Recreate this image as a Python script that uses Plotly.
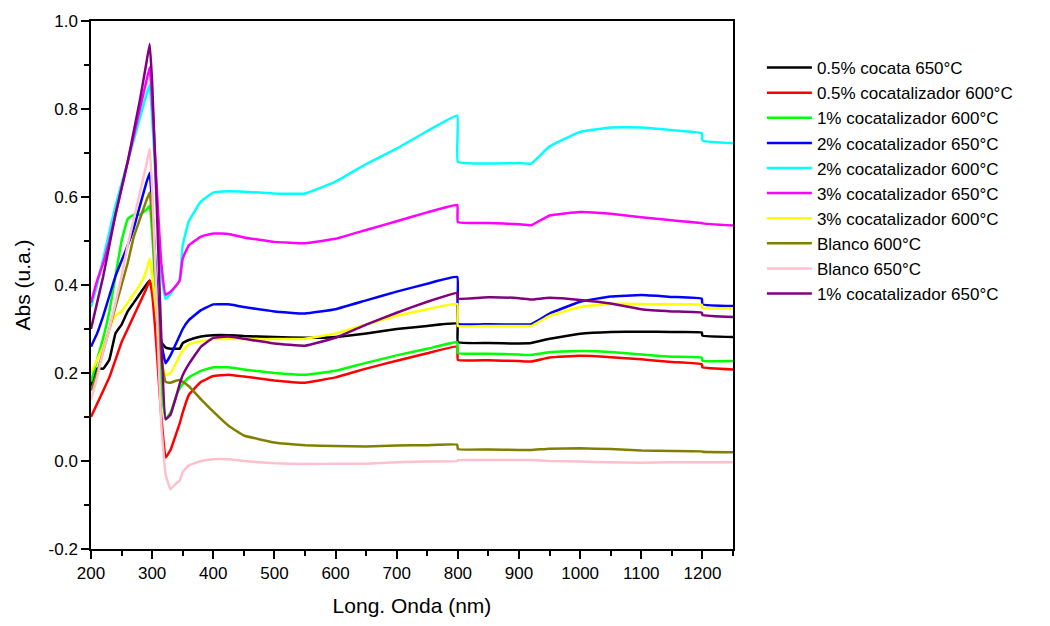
import plotly.graph_objects as go

wavelength = [200, 210, 220, 230, 240, 250, 260, 270, 280, 290, 296, 300, 305, 310, 315, 322, 330, 340, 345, 350,
              360, 380, 400, 425, 450, 500, 550, 600, 650, 700, 750, 799, 800, 850, 900, 920, 950, 1000, 1050,
              1100, 1150, 1199, 1200, 1250]

cocata_05_650 = [0.17, 0.21, 0.21, 0.23, 0.29, 0.31, 0.34, 0.36, 0.38, 0.40, 0.41, 0.39, 0.34, 0.30, 0.27, 0.258, 0.255, 0.255, 0.255, 0.268,
                 0.275, 0.283, 0.286, 0.286, 0.284, 0.282, 0.280, 0.282, 0.290, 0.300, 0.307, 0.312, 0.270, 0.268, 0.267, 0.268, 0.278, 0.289, 0.293,
                 0.294, 0.293, 0.292, 0.285, 0.282]
cocat_05_600 = [0.10, 0.13, 0.16, 0.19, 0.23, 0.27, 0.30, 0.33, 0.36, 0.39, 0.41, 0.38, 0.30, 0.20, 0.10, 0.008, 0.025, 0.065, 0.085, 0.11,
                0.15, 0.18, 0.193, 0.196, 0.192, 0.183, 0.178, 0.190, 0.210, 0.228, 0.245, 0.260, 0.230, 0.229, 0.227, 0.226, 0.235, 0.239, 0.236,
                0.231, 0.225, 0.220, 0.213, 0.208]
cocat_1_600 = [0.18, 0.23, 0.28, 0.34, 0.42, 0.50, 0.55, 0.56, 0.56, 0.57, 0.58, 0.52, 0.40, 0.28, 0.17, 0.095, 0.11, 0.15, 0.165, 0.175,
               0.19, 0.205, 0.213, 0.213, 0.208, 0.200, 0.196, 0.205, 0.223, 0.240, 0.255, 0.270, 0.245, 0.244, 0.242, 0.241, 0.247, 0.250, 0.248,
               0.242, 0.237, 0.235, 0.228, 0.227]
cocat_2_650 = [0.26, 0.29, 0.33, 0.375, 0.42, 0.455, 0.49, 0.53, 0.58, 0.63, 0.655, 0.58, 0.46, 0.35, 0.27, 0.222, 0.24, 0.27, 0.285, 0.30,
               0.32, 0.343, 0.356, 0.356, 0.350, 0.340, 0.335, 0.345, 0.365, 0.385, 0.403, 0.418, 0.312, 0.311, 0.310, 0.311, 0.335, 0.362, 0.374,
               0.377, 0.373, 0.369, 0.356, 0.352]
cocat_2_600 = [0.35, 0.40, 0.46, 0.52, 0.58, 0.63, 0.68, 0.73, 0.78, 0.83, 0.855, 0.78, 0.66, 0.53, 0.43, 0.368, 0.38, 0.40, 0.41, 0.49,
               0.545, 0.59, 0.61, 0.613, 0.612, 0.608, 0.608, 0.635, 0.675, 0.710, 0.750, 0.785, 0.680, 0.676, 0.677, 0.676, 0.715, 0.748, 0.758,
               0.758, 0.752, 0.745, 0.728, 0.722]
cocat_3_650 = [0.36, 0.41, 0.45, 0.50, 0.56, 0.62, 0.68, 0.74, 0.80, 0.86, 0.895, 0.82, 0.69, 0.56, 0.45, 0.378, 0.385, 0.40, 0.41, 0.46,
               0.49, 0.51, 0.517, 0.516, 0.508, 0.498, 0.495, 0.505, 0.525, 0.545, 0.565, 0.582, 0.543, 0.541, 0.538, 0.536, 0.558, 0.566, 0.562,
               0.554, 0.547, 0.541, 0.540, 0.535]
cocat_3_600 = [0.20, 0.23, 0.26, 0.30, 0.33, 0.34, 0.36, 0.38, 0.40, 0.43, 0.46, 0.42, 0.36, 0.29, 0.23, 0.195, 0.20, 0.225, 0.24, 0.25,
               0.265, 0.272, 0.277, 0.278, 0.277, 0.277, 0.278, 0.290, 0.310, 0.330, 0.345, 0.357, 0.307, 0.307, 0.307, 0.307, 0.330, 0.350, 0.357,
               0.357, 0.356, 0.355, 0.348, 0.347]
blanco_600 = [0.16, 0.20, 0.25, 0.30, 0.35, 0.40, 0.45, 0.51, 0.55, 0.59, 0.61, 0.55, 0.43, 0.32, 0.23, 0.18, 0.178, 0.183, 0.184, 0.18,
              0.17, 0.14, 0.112, 0.08, 0.058, 0.042, 0.036, 0.034, 0.033, 0.035, 0.036, 0.037, 0.027, 0.026, 0.025, 0.025, 0.028, 0.029, 0.027,
              0.024, 0.023, 0.022, 0.021, 0.020]
blanco_650 = [0.14, 0.19, 0.25, 0.30, 0.36, 0.42, 0.49, 0.55, 0.61, 0.67, 0.71, 0.62, 0.45, 0.25, 0.08, -0.03, -0.064, -0.05, -0.045, -0.025,
              -0.01, 0.0, 0.004, 0.004, 0.0, -0.005, -0.007, -0.006, -0.006, -0.003, -0.001, 0.0, 0.002, 0.002, 0.002, 0.002, 0.0, -0.001, -0.003,
              -0.004, -0.003, -0.003, -0.003, -0.003]
cocat_1_650 = [0.30, 0.36, 0.42, 0.49, 0.56, 0.62, 0.68, 0.75, 0.82, 0.90, 0.948, 0.86, 0.68, 0.48, 0.28, 0.095, 0.105, 0.15, 0.175, 0.195,
               0.22, 0.26, 0.28, 0.283, 0.278, 0.267, 0.262, 0.280, 0.310, 0.337, 0.362, 0.382, 0.369, 0.372, 0.370, 0.367, 0.371, 0.366, 0.358,
               0.345, 0.340, 0.337, 0.332, 0.327]

series_names = ["0.5% cocata 650°C", "0.5% cocatalizador 600°C", "1% cocatalizador 600°C",
                "2% cocatalizador 650°C", "2% cocatalizador 600°C", "3% cocatalizador 650°C",
                "3% cocatalizador 600°C", "Blanco 600°C", "Blanco 650°C", "1% cocatalizador 650°C"]
series_values = [cocata_05_650, cocat_05_600, cocat_1_600, cocat_2_650, cocat_2_600, cocat_3_650,
                 cocat_3_600, blanco_600, blanco_650, cocat_1_650]
series_colors = ["#000000", "#FF0000", "#00FF00", "#0000FF", "#00FFFF", "#FF00FF",
                 "#FFFF00", "#808000", "#FFC0CB", "#800080"]

x_ticks = list(range(200, 1201, 100))
y_ticks = [-0.2, 0.0, 0.2, 0.4, 0.6, 0.8, 1.0]
y_tick_labels = ["-0.2", "0.0", "0.2", "0.4", "0.6", "0.8", "1.0"]

fig = go.Figure()
for name, vals, col in zip(series_names, series_values, series_colors):
    fig.add_trace(go.Scatter(x=wavelength, y=vals, mode="lines", name=name,
                             line=dict(color=col, width=2.5, shape="spline", smoothing=0.3)))

font_family = "Liberation Sans, Arial, sans-serif"
fig.update_layout(
    width=1050, height=626,
    margin=dict(l=91, r=317, t=20, b=72),
    plot_bgcolor="white", paper_bgcolor="white",
    font=dict(family=font_family, color="#000000"),
    legend=dict(x=1.045, y=0.945, xanchor="left", yanchor="top",
                font=dict(size=17, family=font_family, color="#000000"),
                itemwidth=45, bgcolor="rgba(0,0,0,0)"),
    showlegend=True,
)
fig.update_xaxes(range=[200, 1250], tickvals=x_ticks, ticks="outside", ticklen=8, tickwidth=1.5,
                 tickcolor="#000", showline=True, linecolor="#000", linewidth=1.5, mirror=True,
                 showgrid=False, zeroline=False, tickfont=dict(size=17),
                 minor=dict(ticks="outside", ticklen=5, tickwidth=1.5, dtick=50, tick0=200, tickcolor="#000"),
                 title=dict(text="Long. Onda (nm)", font=dict(size=21), standoff=16))
fig.update_yaxes(range=[-0.2, 1.0], tickvals=y_ticks, ticktext=y_tick_labels, ticks="outside", ticklen=8, tickwidth=1.5,
                 tickcolor="#000", showline=True, linecolor="#000", linewidth=1.5, mirror=True,
                 showgrid=False, zeroline=False, tickfont=dict(size=17),
                 minor=dict(ticks="outside", ticklen=5, tickwidth=1.5, dtick=0.1, tick0=0, tickcolor="#000"),
                 title=dict(text="Abs (u.a.)", font=dict(size=21), standoff=12))

fig.write_html("out.html")
